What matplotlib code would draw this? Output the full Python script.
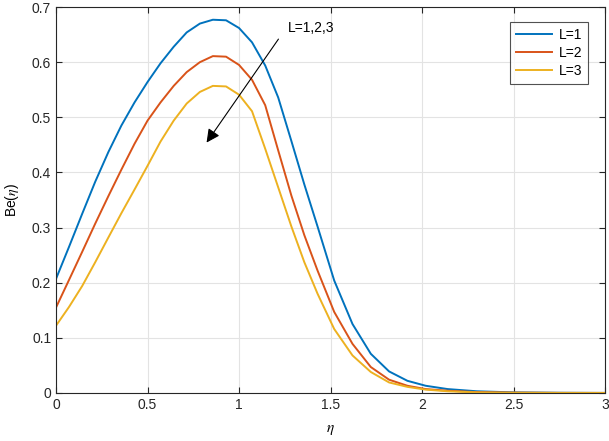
import numpy as np
import matplotlib.pyplot as plt

plt.rcParams['font.family'] = ['Liberation Sans', 'DejaVu Sans']
plt.rcParams['mathtext.fontset'] = 'stix'

# solver mesh (finer near the peak)
eta = [0, 0.071, 0.143, 0.214, 0.286, 0.357, 0.429, 0.5, 0.571, 0.643,
       0.714, 0.786, 0.857, 0.929, 1.0, 1.071, 1.143, 1.214, 1.286, 1.357,
       1.429, 1.52, 1.62, 1.72, 1.82, 1.92, 2.02, 2.14, 2.3, 2.5, 2.75, 3.0]
be_L1 = [0.207, 0.265, 0.325, 0.383, 0.437, 0.485, 0.527, 0.564, 0.598, 0.628,
         0.654, 0.670, 0.677, 0.676, 0.662, 0.636, 0.594, 0.536, 0.457, 0.378,
         0.302, 0.204, 0.125, 0.071, 0.039, 0.022, 0.013, 0.007, 0.003, 0.001,
         0.0003, 0.0]
be_L2 = [0.155, 0.205, 0.256, 0.307, 0.357, 0.405, 0.452, 0.494, 0.527, 0.557,
         0.582, 0.600, 0.611, 0.610, 0.595, 0.568, 0.522, 0.440, 0.358, 0.286,
         0.222, 0.147, 0.089, 0.047, 0.024, 0.013, 0.007, 0.004, 0.0015, 0.0005,
         0.0001, 0.0]
be_L3 = [0.122, 0.156, 0.194, 0.237, 0.282, 0.326, 0.369, 0.412, 0.456, 0.494,
         0.525, 0.546, 0.557, 0.556, 0.541, 0.511, 0.443, 0.373, 0.302, 0.237,
         0.180, 0.116, 0.068, 0.038, 0.019, 0.011, 0.006, 0.003, 0.001, 0.0003,
         0.0, 0.0]
labels = ['L=1', 'L=2', 'L=3']
colors = ['#0072BD', '#D95319', '#EDB120']

fig = plt.figure(figsize=(6.09, 4.41), dpi=100)
ax = fig.add_axes([0.092, 0.109, 0.9015, 0.875])

for yv, lab, c in zip([be_L1, be_L2, be_L3], labels, colors):
    ax.plot(eta, yv, color=c, lw=1.4, label=lab)

ax.set_xlim(0, 3)
ax.set_ylim(0, 0.7)
ax.set_xticks([0, 0.5, 1, 1.5, 2, 2.5, 3])
ax.set_xticklabels(['0', '0.5', '1', '1.5', '2', '2.5', '3'])
ax.set_yticks(np.arange(0, 0.71, 0.1))
ax.set_yticklabels(['0', '0.1', '0.2', '0.3', '0.4', '0.5', '0.6', '0.7'])
ax.grid(True, color='#e3e3e3', lw=0.8)
ax.set_axisbelow(True)
ax.tick_params(direction='in', top=True, right=True, labelsize=10,
               colors='#262626', length=4, width=0.8)
for s in ax.spines.values():
    s.set_color('#262626')
    s.set_linewidth(0.8)

ax.set_xlabel(r'$\eta$', fontsize=11, labelpad=8)
ax.set_ylabel(r'Be($\eta$)', fontsize=10, labelpad=8)

leg = ax.legend(loc='upper right', bbox_to_anchor=(0.969, 0.961), fontsize=10,
                frameon=True, fancybox=False, edgecolor='#262626',
                handlelength=2.6, borderpad=0.4, labelspacing=0.3,
                borderaxespad=0, handletextpad=0.5)
leg.get_frame().set_linewidth(0.8)

ax.annotate('', xy=(0.814, 0.45), xytext=(1.224, 0.646),
            arrowprops=dict(arrowstyle='-|>', color='black', lw=0.8,
                            mutation_scale=20))
ax.text(1.268, 0.662, 'L=1,2,3', fontsize=10, va='center', ha='left')

fig.savefig('out.png', dpi=100)
